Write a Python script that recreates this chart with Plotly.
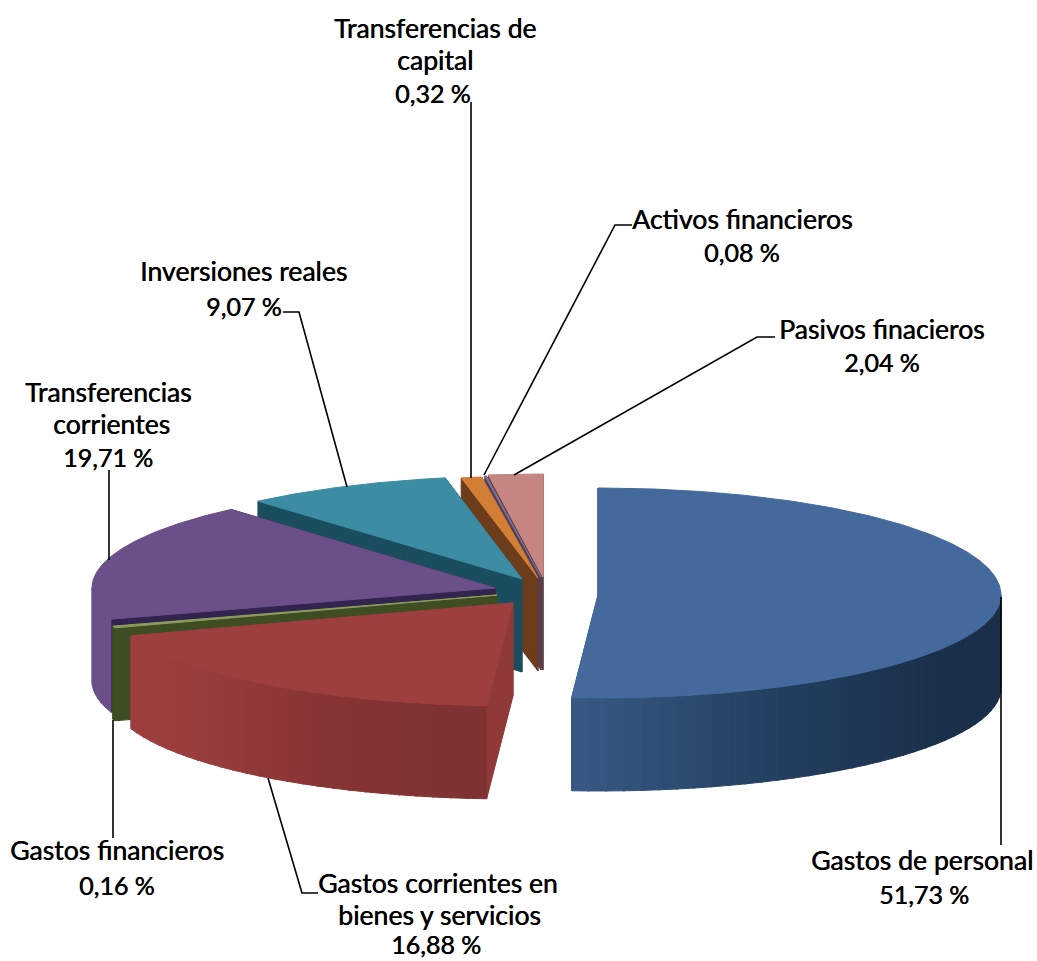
import numpy as np
import plotly.graph_objects as go

# ---- data ----
categories = ["Gastos de personal", "Gastos corrientes en bienes y servicios", "Gastos financieros",
              "Transferencias corrientes", "Inversiones reales", "Transferencias de capital",
              "Activos financieros", "Pasivos finacieros"]
values = [51.73, 16.88, 0.16, 19.71, 9.07, 0.32, 0.08, 2.04]
label_lines = [["Gastos de personal"], ["Gastos corrientes en", "bienes y servicios"], ["Gastos financieros"],
               ["Transferencias", "corrientes"], ["Inversiones reales"], ["Transferencias de", "capital"],
               ["Activos financieros"], ["Pasivos finacieros"]]

# ---- drawing layout (pixels of the 1037x961 page) ----
RX, RY_FRONT, DEPTH = 403, 103, 93
ry_back = [107, 104, 104, 104, 103, 102, 102, 103]
apex = [(598, 595), (513, 603), (497, 595), (495, 588), (522, 579), (538, 578), (541, 577), (543, 577)]
# small corrections of the slice boundaries, degrees (the picture widens the thinnest slices)
nudge = [-2.5, 4.4, 4.8, 0.5, -2.2, -0.4, -0.45, 0]
top_col = ["#43699d", "#9e3f3f", "#8d9d62", "#6a4f88", "#3c8ca3", "#d27f35", "#7f7099", "#c58683"]
cut_col = ["#2f4f78", "#903939", "#3f4e22", "#33234f", "#1a4e5e", "#6d3d1b", "#4c3f60", "#6d4030"]
side_stops = [["#1b3149", "#1a2f4a", "#233e5f", "#375a85"], ["#7f3232", "#863434", "#983d3d", "#9e3f3f"],
              ["#3f4e22", "#3f4e22"], ["#6a4f88", "#6a4f88"], ["#1a4e5e", "#1a4e5e"],
              ["#6d3d1b", "#6d3d1b"], ["#4c3f60", "#4c3f60"], ["#8a5a58", "#8a5a58"]]
# centre of each text line
label_x = [[922], [438, 439], [117], [108, 111], [243], [435, 435], [742], [882]]
label_y = [[860], [883, 915], [850], [392, 424], [271], [28, 60], [219], [329]]
pct_xy = [(924, 894), (436, 944), (117, 885), (108, 457), (244, 306), (433, 93), (742, 252), (882, 362)]
leaders = [[(1001, 597), (1001, 845)], [(318, 893), (302, 893), (268, 778)], [(113, 720), (113, 838)],
           [(109, 470), (109, 560)], [(283, 312), (299, 312), (347, 487)], [(471, 102), (471, 478)],
           [(632, 225), (615, 225), (484, 475)], [(775, 337), (757, 337), (514, 475)]]
order = [7, 6, 5, 4, 3, 2, 1, 0]  # back to front

cum = np.cumsum(values) / sum(values) * 360
bounds = [0.0] + [float(c + n) for c, n in zip(cum, nudge)]


def rim(i, th):
    th = np.radians(th)
    c = np.cos(th)
    ry = np.where(c > 0, ry_back[i], RY_FRONT)
    return apex[i][0] + RX * np.sin(th), apex[i][1] - ry * c


def rgb(h):
    return np.array([int(h[k:k + 2], 16) for k in (1, 3, 5)], float)


def mix(stops, t):
    p = t * (len(stops) - 1)
    k = min(int(p), len(stops) - 2)
    c = rgb(stops[k]) * (1 - (p - k)) + rgb(stops[k + 1]) * (p - k)
    return "rgb(%d,%d,%d)" % tuple(c)


fig = go.Figure()


def poly(xs, ys, col):
    fig.add_trace(go.Scatter(x=list(xs), y=list(ys), mode="lines", fill="toself", fillcolor=col,
                             line=dict(color=col, width=1), hoverinfo="skip", showlegend=False))


for i in order:
    a, b = bounds[i], bounds[i + 1]
    ax, ay = apex[i]
    # cut faces
    for th in (a, b):
        rx, ry = rim(i, th)
        poly([ax, rx, rx, ax, ax], [ay, ry, ry + DEPTH, ay + DEPTH, ay], cut_col[i])
    # outer wall, only where it faces the viewer
    lo, hi = max(a, 90), min(b, 270)
    if hi > lo:
        n = max(2, int((hi - lo) / 2.5))
        edges = np.linspace(lo, hi, n + 1)
        for k in range(n):
            ths = np.linspace(edges[k], min(edges[k + 1] + 0.3, hi), 4)
            x, y = rim(i, ths)
            poly(list(x) + list(x[::-1]) + [x[0]], list(y) + list(y[::-1] + DEPTH) + [y[0]],
                 mix(side_stops[i], (k + 0.5) / n))
    # top
    ths = np.linspace(a, b, max(3, int(b - a) * 2))
    x, y = rim(i, ths)
    poly([ax] + list(x) + [ax], [ay] + list(y) + [ay], top_col[i])

for pts in leaders:
    fig.add_trace(go.Scatter(x=[p[0] for p in pts], y=[p[1] for p in pts], mode="lines",
                             line=dict(color="#000000", width=1.6), hoverinfo="skip", showlegend=False))

FONT = dict(family="Lato", size=26.6, color="#000000", shadow="0.5px 0 0 #000000")
PCT_FONT = dict(family="Lato", size=25, color="#000000", shadow="0.5px 0 0 #000000")
for i, lines in enumerate(label_lines):
    for line, lx, ly in zip(lines, label_x[i], label_y[i]):
        fig.add_annotation(x=lx, y=ly, text=line, showarrow=False, font=FONT,
                           xanchor="center", yanchor="middle")
    px, py = pct_xy[i]
    fig.add_annotation(x=px, y=py, text=f"{values[i]:.2f} %".replace(".", ","), showarrow=False, font=PCT_FONT,
                       xanchor="center", yanchor="middle")

fig.update_xaxes(range=[0, 1037], visible=False, fixedrange=True)
fig.update_yaxes(range=[961, 0], visible=False, fixedrange=True)
fig.update_layout(width=1037, height=961, margin=dict(l=0, r=0, t=0, b=0), paper_bgcolor="#ffffff",
                  plot_bgcolor="#ffffff", showlegend=False)
fig.write_html("out.html", config=dict(displayModeBar=False),
               post_script="document.body.style.margin='0';document.body.style.overflow='hidden';")
